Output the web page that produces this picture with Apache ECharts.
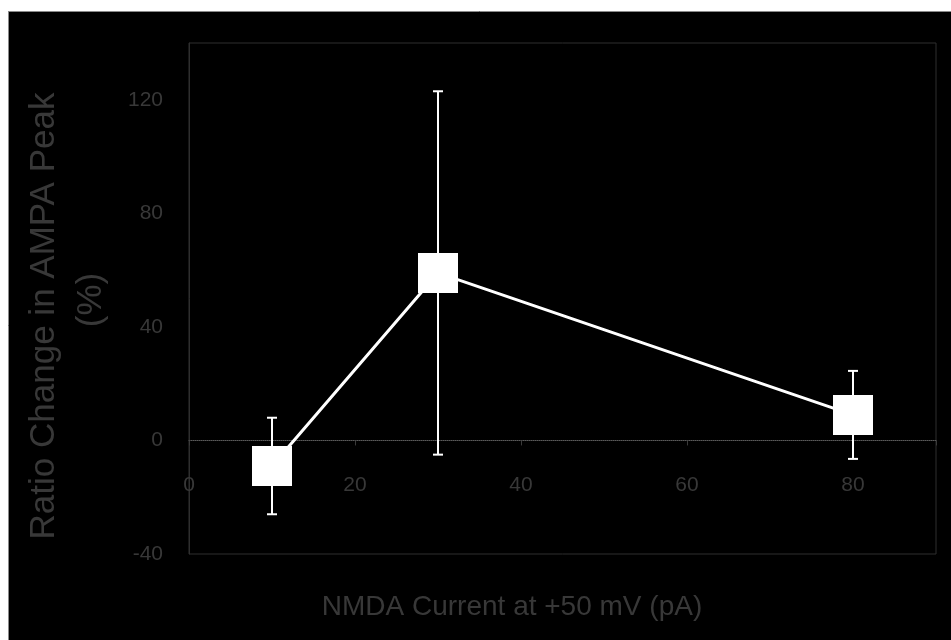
<!DOCTYPE html>
<html>
<head>
<meta charset="utf-8">
<script src="https://cdn.jsdelivr.net/npm/echarts@6/dist/echarts.min.js"></script>
<style>
  html, body { margin: 0; padding: 0; background: #ffffff; }
  #chart { width: 951px; height: 640px; }
</style>
</head>
<body>
<div id="chart"></div>
<script>
// NMDA current (pA) vs. ratio change in AMPA peak (%), mean ± error
const currents = [10, 30, 80];
const ratioChange = [-9, 59, 9];
const errors = [17, 64, 15.5];

const xTicks = [0, 20, 40, 60, 80];
const yTicks = [-40, 0, 40, 80, 120];

const xTitle = 'NMDA Current at +50 mV (pA)';
const yTitle = 'Ratio Change in AMPA Peak';
const yUnit = '(%)';

const textColor = '#383838';
const fontFamily = '"Liberation Sans", Arial, sans-serif';

const points = currents.map((c, i) => [c, ratioChange[i]]);
const errorData = currents.map((c, i) => [c, ratioChange[i], errors[i]]);

const chart = echarts.init(document.getElementById('chart'), null, { renderer: 'canvas' });

chart.setOption({
  backgroundColor: '#000000',
  animation: false,
  grid: {
    left: 189, right: 15, top: 43, bottom: 86,
    show: true,
    borderColor: '#2e2e2e',
    borderWidth: 1,
    backgroundColor: 'transparent'
  },
  graphic: [
    // white margin strips around the black panel
    { type: 'rect', shape: { x: 0, y: 0, width: 951, height: 11 }, style: { fill: '#ffffff' }, z: 100 },
    { type: 'rect', shape: { x: 0, y: 0, width: 8, height: 640 }, style: { fill: '#ffffff' }, z: 100 },
    { type: 'line', shape: { x1: 8, y1: 11.5, x2: 951, y2: 11.5 }, style: { stroke: '#8a8a8a', lineWidth: 1 }, z: 101 },
    { type: 'line', shape: { x1: 8.5, y1: 11, x2: 8.5, y2: 640 }, style: { stroke: '#8a8a8a', lineWidth: 1 }, z: 101 },
    // axis titles
    {
      type: 'text', x: 44, y: 316, rotation: Math.PI / 2,
      style: { text: yTitle, fill: textColor, font: '35px ' + fontFamily, align: 'center', verticalAlign: 'middle' }
    },
    {
      type: 'text', x: 91, y: 300, rotation: Math.PI / 2,
      style: { text: yUnit, fill: textColor, font: '35px ' + fontFamily, align: 'center', verticalAlign: 'middle' }
    },
    {
      type: 'text', x: 512, y: 607,
      style: { text: xTitle, fill: textColor, font: '28px ' + fontFamily, align: 'center', verticalAlign: 'middle' }
    }
  ],
  xAxis: {
    type: 'value',
    min: 0, max: 90, interval: 20,
    axisLine: { show: true, onZero: true, lineStyle: { color: '#5a5a5a', type: 'dotted', width: 1 } },
    axisTick: { show: true, length: 5, lineStyle: { color: '#3a3a3a' } },
    splitLine: { show: false },
    axisLabel: {
      color: textColor, fontSize: 21, fontFamily: 'Liberation Sans', margin: -79,
      formatter: v => (xTicks.includes(v) ? String(v) : '')
    }
  },
  yAxis: {
    type: 'value',
    min: -40, max: 140, interval: 40,
    axisLine: { show: true, onZero: false, lineStyle: { color: '#2e2e2e', width: 1 } },
    axisTick: { show: false },
    splitLine: { show: false },
    axisLabel: {
      color: textColor, fontSize: 21, fontFamily: 'Liberation Sans', margin: 26,
      formatter: v => (yTicks.includes(v) ? String(v) : '')
    }
  },
  series: [
    {
      type: 'custom',
      data: errorData,
      z: 2,
      renderItem: function (params, api) {
        const x = api.value(0);
        const y = api.value(1);
        const e = api.value(2);
        const top = api.coord([x, y + e]);
        const bot = api.coord([x, y - e]);
        const half = 5;
        const style = { stroke: '#ffffff', lineWidth: 2 };
        return {
          type: 'group',
          children: [
            { type: 'line', shape: { x1: top[0], y1: top[1], x2: bot[0], y2: bot[1] }, style: style },
            { type: 'line', shape: { x1: top[0] - half, y1: top[1], x2: top[0] + half, y2: top[1] }, style: style },
            { type: 'line', shape: { x1: bot[0] - half, y1: bot[1], x2: bot[0] + half, y2: bot[1] }, style: style }
          ]
        };
      }
    },
    {
      type: 'line',
      data: points,
      z: 3,
      symbol: 'rect',
      symbolSize: 40,
      showAllSymbol: true,
      lineStyle: { color: '#ffffff', width: 3 },
      itemStyle: { color: '#ffffff', borderWidth: 0 }
    }
  ]
});
</script>
</body>
</html>
